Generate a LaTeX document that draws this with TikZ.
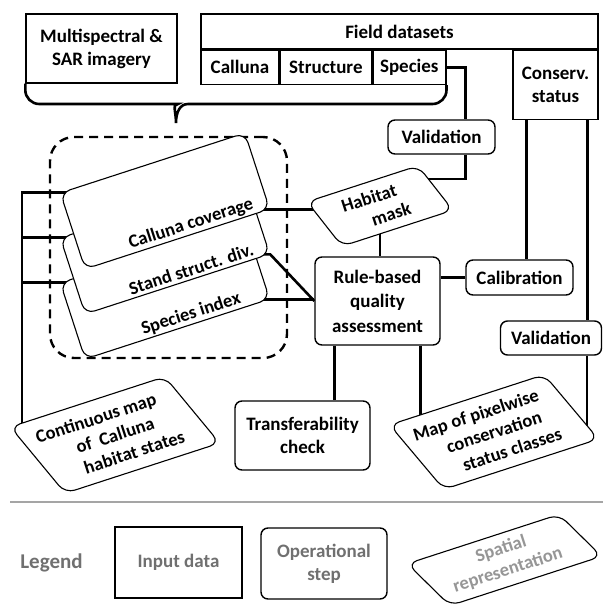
\documentclass[tikz,border=0pt]{standalone}
\usepackage{fontspec}
\setmainfont{Carlito}
\usetikzlibrary{shapes.geometric,positioning,calc,backgrounds}
\definecolor{legendgray}{RGB}{112,112,112}
\definecolor{rulegray}{RGB}{165,165,165}
\definecolor{spatgray}{RGB}{150,150,150}

\begin{document}
\begin{tikzpicture}[x=1pt, y=-1pt,
    every node/.style={font=\bfseries\fontsize{19}{23}\selectfont, align=center, inner sep=0pt},
    inbox/.style={draw, fill=white, line width=1.4pt},
    opbox/.style={draw, fill=white, line width=1.4pt, rounded corners=7pt},
    spatial/.style={draw, fill=white, line width=1.1pt, trapezium, trapezium left angle=119,
        trapezium right angle=61, trapezium stretches body, rounded corners=10pt, rotate=18,
        minimum width=194pt, minimum height=80pt, font=\bfseries\fontsize{18.5}{22}\selectfont},
    sptext/.style={rotate=18, font=\bfseries\fontsize{18.5}{22}\selectfont},
    grp/.style={draw, line width=2.4pt, dash pattern=on 9pt off 6pt, rounded corners=24pt},
    conn/.style={line width=2.6pt}]
    \useasboundingbox (0,0) rectangle (603,607);

    % input data
    \node[inbox, minimum width=151pt, minimum height=69pt] (msi) at (101.5,48.5) {Multispectral \&\\SAR imagery};
    \node[inbox, minimum width=397pt, minimum height=35pt] (field) at (399.5,31.5) {Field datasets};
    \node[inbox, minimum width=78pt, minimum height=34pt, anchor=north west] (calf) at (field.south west) {Calluna};
    \node[inbox, minimum width=91pt, minimum height=34pt, right=0pt of calf] (strf) {Structure};
    \node[inbox, minimum width=73pt, minimum height=34pt, right=0pt of strf] (spcf) {Species};
    \node[inbox, minimum width=85pt, minimum height=69pt, anchor=north east] (cons) at (field.south east) {Conserv.\\status};

    % brace below the inputs
    \coordinate (tip) at (176,123);
    \draw[conn] (msi.south west) {[rounded corners=14pt] |- (164,104)} .. controls (172,104) and (176,112) .. (tip)
        .. controls (176,112) and (180,104) .. (188,104) {[rounded corners=14pt] -| (spcf.south east)};

    % group of layers
    \node[grp, minimum width=237pt, minimum height=221pt] (layers) at (168.5,247.5) {};
    \node[spatial] (spc) at (165,291) {};
    \node[sptext] (spct) at ([shift={(26pt,-23pt)}]spc.center) {Species index};
    \node[spatial] (std) at (165,246) {};
    \node[sptext] (stdt) at ([shift={(26pt,-23pt)}]std.center) {Stand struct. div.};
    \node[spatial] (cal) at (165,201) {};
    \node[sptext] (calt) at ([shift={(26pt,-23pt)}]cal.center) {Calluna coverage};

    % operational steps and outputs
    \node[opbox, minimum width=107pt, minimum height=34pt] (val1) at (441.5,137) {Validation};
    \node[spatial, minimum width=136pt, minimum height=53pt] (hab) at (380,206) {\hspace*{-8pt}Habitat\hspace*{8pt}\\\hspace*{8pt}mask\hspace*{-8pt}};
    \node[opbox, minimum width=125pt, minimum height=88pt, font=\bfseries\fontsize{19}{24.5}\selectfont] (rule) at (377.5,301) {Rule-based\\quality\\assessment};
    \node[opbox, minimum width=107pt, minimum height=35pt] (calib) at (519.5,277.5) {Calibration};
    \node[opbox, minimum width=101pt, minimum height=34pt] (val2) at (551,338) {Validation};
    \node[opbox, minimum width=135pt, minimum height=69pt] (trans) at (302.5,435.5) {Transferability\\check};
    \node[spatial] (cmap) at (115,435) {\hspace*{-13pt}Continuous map\hspace*{13pt}\\of \ Calluna\\\hspace*{13pt}habitat states\hspace*{-13pt}};
    \node[spatial, minimum width=189pt, minimum height=78pt] (map) at (494,432) {\hspace*{-12pt}Map of pixelwise\hspace*{12pt}\\conservation\\\hspace*{12pt}status classes\hspace*{-12pt}};
    \coordinate (trunk) at (22,0);

    \begin{scope}[on background layer]
        \draw[conn] (spcf.east) -| ([xshift=24pt]val1.north);
        \draw[conn] ([xshift=24pt]val1.south) |- ([yshift=27pt]hab.center);
        \draw[conn] (cal.center |- cal.bottom right corner) -- (cal.bottom right corner -| hab.center);
        \draw[conn] (std.center |- std.bottom right corner) -- (std.bottom right corner) -- (rule.west);
        \draw[conn] (spc.center |- spc.bottom right corner) -- (spc.bottom right corner -| rule.west);
        \draw[conn] (hab.center) -- (hab.center |- rule.north);
        \draw[conn] (rule.east |- calib.west) -- (calib.west);
        \draw[conn] ([xshift=14pt]cons.south west) -- ([xshift=14pt]cons.south west |- calib.north);
        \draw[conn] ([xshift=-11pt]cons.south east) -- ([xshift=-11pt]cons.south east |- val2.north);
        \draw[conn] ([xshift=36pt]val2.south) -- ([xshift=36pt]val2.south |- map.center);
        \draw[conn] ([xshift=20pt]rule.south west) -- ([xshift=20pt]rule.south west |- trans.north);
        \draw[conn] ([xshift=-20pt]rule.south east) -- ([xshift=-20pt]rule.south east |- map.center);
        \draw[conn] (cal.center |- cal.top left corner) -| (trunk |- cmap.top left corner);
        \draw[conn] (std.center |- std.top left corner) -- (trunk |- std.top left corner);
        \draw[conn] (spc.center |- spc.top left corner) -- (trunk |- spc.top left corner);
    \end{scope}

    % legend
    \draw[rulegray, line width=2pt] (10,502) -- (603,502);
    \node[text=legendgray, font=\bfseries\fontsize{21}{25}\selectfont] (leg) at (51.5,563) {Legend};
    \node[inbox, text=legendgray, minimum width=127pt, minimum height=71pt] (legin) at (178.5,562.5) {Input data};
    \node[opbox, text=legendgray, minimum width=126pt, minimum height=71pt] (legop) at (324,563.5) {Operational\\step};
    \node[spatial, text=spatgray, trapezium left angle=126, trapezium right angle=54,
        minimum width=187pt, minimum height=53pt] (legsp) at (504.5,560) {Spatial\\representation};
\end{tikzpicture}
\end{document}
